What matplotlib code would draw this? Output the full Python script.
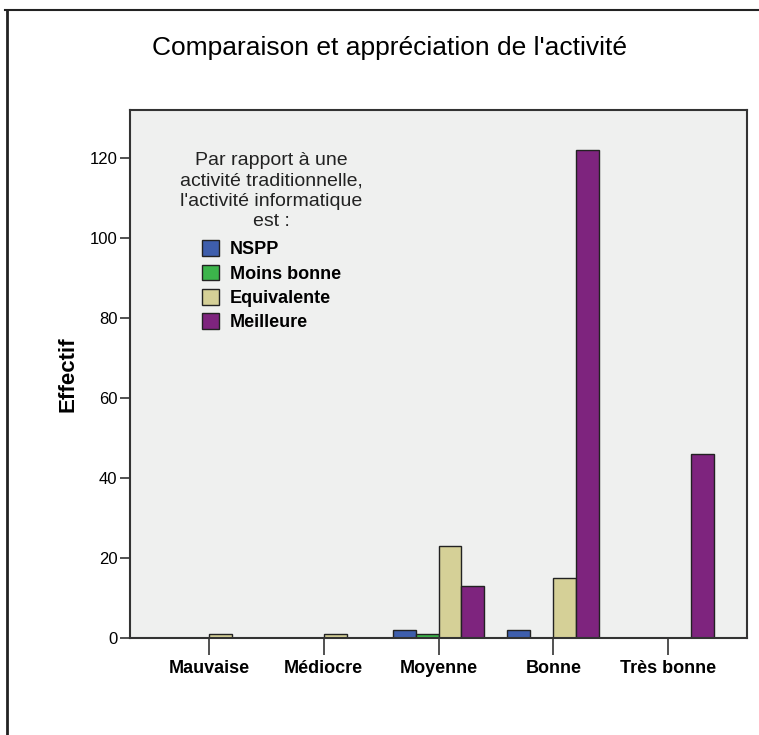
import numpy as np
import matplotlib.pyplot as plt
from matplotlib.lines import Line2D

plt.rcParams['font.family'] = ['Liberation Sans', 'DejaVu Sans']

# Données
categories = ['Mauvaise', 'Médiocre', 'Moyenne', 'Bonne', 'Très bonne']
series = ['NSPP', 'Moins bonne', 'Equivalente', 'Meilleure']
nspp = [0, 0, 2, 2, 0]
moins_bonne = [0, 0, 1, 0, 0]
equivalente = [1, 1, 23, 15, 0]
meilleure = [0, 0, 13, 122, 46]
couleurs = ['#3e5eac', '#3cb44b', '#d5d097', '#7e247e']
y_ticks = [0, 20, 40, 60, 80, 100, 120]

W, H = 759, 735
fig = plt.figure(figsize=(W / 100, H / 100), dpi=100)
fig.patch.set_facecolor('white')

# cadre extérieur (haut et gauche)
fig.add_artist(Line2D([5 / W, 1], [1 - 10 / H, 1 - 10 / H], color='#222222', lw=1.5))
fig.add_artist(Line2D([7 / W, 7 / W], [0, 1 - 10 / H], color='#222222', lw=2))

ax = fig.add_axes([130 / W, 1 - 638 / H, 617 / W, 528 / H])
ax.set_facecolor('#eff0ef')

x = np.arange(len(categories))
largeur = 0.2
valeurs = [nspp, moins_bonne, equivalente, meilleure]
for i, (nom, vals) in enumerate(zip(series, valeurs)):
    pos = x + (i - 2) * largeur
    ax.bar(pos, vals, width=largeur, align='edge', color=couleurs[i],
           edgecolor='#222222', linewidth=1, label=nom)

ax.set_xlim(-0.687, len(categories) - 1 + 0.687)
ax.set_ylim(0, 132)
ax.set_xticks(x)
ax.set_xticklabels(categories, fontsize=13, fontweight='bold')
ax.set_yticks(y_ticks)
ax.set_yticklabels([str(v) for v in y_ticks], fontsize=12)
ax.tick_params(axis='x', length=12, width=1.2, color='#333333', pad=4)
ax.tick_params(axis='y', length=7, width=1.2, color='#333333', pad=2)
for s in ax.spines.values():
    s.set_color('#333333')
    s.set_linewidth(1.5)

ax.set_ylabel('Effectif', fontsize=16, fontweight='bold', labelpad=8)

fig.text(390 / W, 1 - 48 / H, "Comparaison et appréciation de l'activité",
         ha='center', va='center', fontsize=19)

leg = ax.legend(title="Par rapport à une\nactivité traditionnelle,\nl'activité informatique\nest :",
                loc='upper left', bbox_to_anchor=(164 / W, 1 - 136 / H),
                bbox_transform=fig.transFigure, frameon=False,
                prop={'weight': 'bold', 'size': 13}, title_fontsize=14,
                handlelength=0.95, handleheight=0.95, handletextpad=0.6,
                labelspacing=0.35)
leg.get_title().set_color('#222222')
leg.get_title().set_multialignment('center')
leg.get_title().set_linespacing(1.25)
# un peu plus d'espace entre le titre et les entrées
leg._legend_box.sep = 7.5

fig.savefig('out.png', dpi=100)
